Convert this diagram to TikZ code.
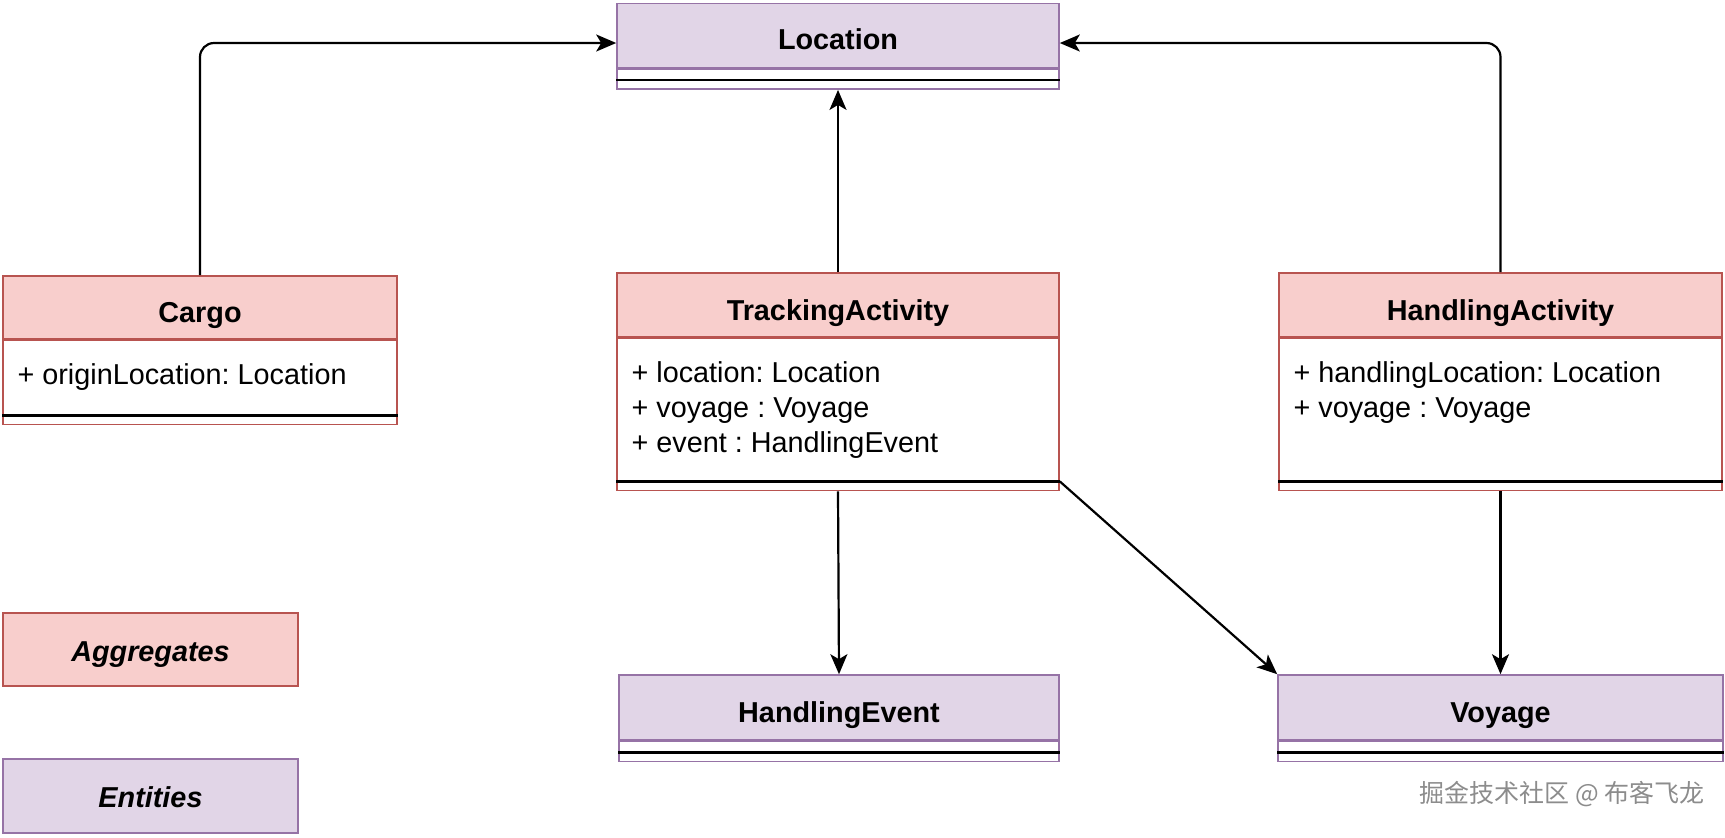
\documentclass[tikz,border=0pt]{standalone}
\usepackage{fontspec}
\setmainfont{Liberation Sans}
\newfontfamily\cjkfont{Noto Sans CJK SC}
\usetikzlibrary{arrows.meta,calc,positioning}
\definecolor{aggfill}{HTML}{F8CECC}
\definecolor{aggdraw}{HTML}{B85450}
\definecolor{entfill}{HTML}{E1D5E7}
\definecolor{entdraw}{HTML}{9673A6}
\frenchspacing
\begin{document}
\begin{tikzpicture}[x=.5pt,y=-.5pt,
  classhead/.style={draw,line width=.8pt,minimum width=221pt,minimum height=32pt,inner sep=0pt,text height=15pt,text depth=0pt,font=\fontsize{14.4}{17.5}\selectfont\bfseries},
  aggbox/.style={classhead,fill=aggfill,draw=aggdraw},
  entbox/.style={classhead,fill=entfill,draw=entdraw},
  compart/.style={draw,line width=.8pt,minimum width=221pt,inner sep=0pt,fill=white},
  attr/.style={anchor=north west,inner sep=0pt,align=left,font=\fontsize{14.4}{17.5}\selectfont},
  keybox/.style={text height=11.5pt,font=\fontsize{14.4}{17.5}\selectfont\bfseries\itshape},
  divider/.style={line width=1.3pt},
  assoc/.style={line width=1.1pt,-{Stealth[length=10pt,width=8.5pt,inset=2.5pt]},rounded corners=7pt}]
\useasboundingbox(0,0)rectangle(1725,837);
\node[entbox,text height=13.7pt](loc)at(838,35.5){Location};\node[compart,draw=entdraw,minimum height=10pt,below=0pt of loc](locbody){};\draw[divider]($(locbody.south west)+(0,5pt)$)--($(locbody.south east)+(0,5pt)$);
\node[aggbox,minimum width=197pt,minimum height=31.5pt](cargo)at(200,307.5){Cargo};\node[compart,draw=aggdraw,minimum width=197pt,minimum height=42pt,below=0pt of cargo](cargobody){};\draw[divider]($(cargobody.south west)+(0,5pt)$)--($(cargobody.south east)+(0,5pt)$);
\node[attr]at($(cargobody.north west)+(7.5pt,-11.7pt)$){+ originLocation: Location};
\node[aggbox](track)at(838,305){TrackingActivity};\node[compart,draw=aggdraw,minimum height=76pt,below=0pt of track](trackbody){};\draw[divider]($(trackbody.south west)+(0,5pt)$)--($(trackbody.south east)+(0,5pt)$);
\node[attr]at($(trackbody.north west)+(7.5pt,-11.7pt)$){+ location: Location\\+ voyage : Voyage\\+ event : HandlingEvent};
\node[aggbox,minimum width=221.5pt](hand)at(1500.5,305){HandlingActivity};\node[compart,draw=aggdraw,minimum width=221.5pt,minimum height=76pt,below=0pt of hand](handbody){};\draw[divider]($(handbody.south west)+(0,5pt)$)--($(handbody.south east)+(0,5pt)$);
\node[attr]at($(handbody.north west)+(7.5pt,-11.7pt)$){+ handlingLocation: Location\\+ voyage : Voyage};
\node[entbox,minimum width=220pt,minimum height=32.5pt](evt)at(839,707.5){HandlingEvent};\node[compart,draw=entdraw,minimum width=220pt,minimum height=10pt,below=0pt of evt](evtbody){};\draw[divider]($(evtbody.south west)+(0,5pt)$)--($(evtbody.south east)+(0,5pt)$);
\node[entbox,minimum width=222.5pt,minimum height=32.5pt](voy)at(1500.5,707.5){Voyage};\node[compart,draw=entdraw,minimum width=222.5pt,minimum height=10pt,below=0pt of voy](voybody){};\draw[divider]($(voybody.south west)+(0,5pt)$)--($(voybody.south east)+(0,5pt)$);
\node[aggbox,keybox,minimum width=147.5pt,minimum height=36.5pt](aggkey)at(150.5,649.5){Aggregates};
\node[entbox,keybox,minimum width=147.5pt,minimum height=37pt](entkey)at(150.5,796){Entities};
\node[text=black!45,font=\cjkfont\fontsize{12.5}{14}\selectfont](mark)at(1562,794){掘金技术社区 @ 布客飞龙};
\draw[assoc](cargo.north)|-($(loc.west)+(0,-3.75pt)$);\draw[assoc](hand.north)|-($(loc.east)+(0,-3.75pt)$);\draw[assoc](track.north)--(locbody.south);
\draw[assoc](trackbody.south)--(evt.north);\draw[assoc]($(trackbody.south east)+(0,5pt)$)--(voy.north west);\draw[assoc](handbody.south)--(voy.north);
\end{tikzpicture}
\end{document}
